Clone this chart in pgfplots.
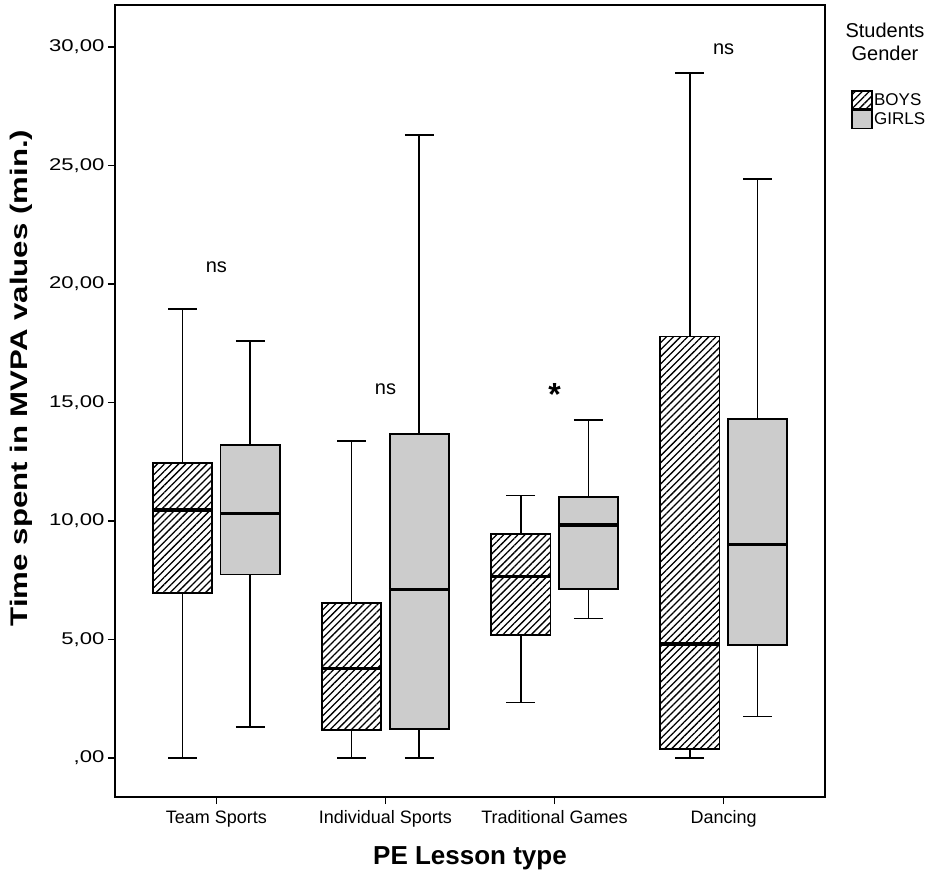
\documentclass[border=0pt]{standalone}
\usepackage{fontspec}
\setmainfont{Liberation Sans}
\newfontfamily\tickfont[FakeStretch=1.3]{Liberation Sans}
\newfontfamily\labfont[FakeStretch=1.3]{Liberation Sans}
\usepackage{pgfplots}
\pgfplotsset{compat=1.18}
\usepgfplotslibrary{statistics}
\usetikzlibrary{patterns.meta}
\definecolor{boxgray}{RGB}{204,204,204}
\tikzset{hatch/.style={pattern={Lines[angle=45,distance=5pt,line width=1.3pt]}, pattern color=black}}
\pgfplotsset{
  bx/.style n args={6}{black, line width=1.4pt, forget plot,
    boxplot prepared={draw direction=y, draw position=#1, lower whisker=#2, lower quartile=#3,
      median=#4, upper quartile=#5, upper whisker=#6,
      box extend=0.35, whisker extend=0.17,
      every whisker/.style={line width=1.6pt},
      every box/.style={line width=1.6pt},
      every median/.style={line width=3.2pt}}},
}
\begin{document}
\begin{tikzpicture}
\begin{axis}[
  scale only axis, width=710pt, height=792pt,
  xmin=-0.6, xmax=3.6, ymin=-1.65, ymax=31.77,
  xtick={0,1,2,3},
  xticklabels={Team Sports, Individual Sports, Traditional Games, Dancing},
  ytick={0,5,...,30},
  yticklabels={{,00},{5,00},{10,00},{15,00},{20,00},{25,00},{30,00}},
  tick align=outside, major tick length=7pt,
  tick style={line width=1.3pt, black},
  xtick pos=left, ytick pos=left,
  axis line style={line width=1.6pt},
  yticklabel style={font=\fontsize{17}{17}\tickfont},
  xticklabel style={font=\fontsize{18}{18}\selectfont, yshift=-3pt},
  xlabel={PE Lesson type},
  ylabel={Time spent in MVPA values (min.)},
  xlabel style={font=\fontsize{26}{26}\selectfont\bfseries, at={(axis description cs:0.5,-0.077)}, anchor=center},
  ylabel style={font=\fontsize{24}{24}\labfont\bfseries, at={(axis description cs:-0.1324,0.529)}, anchor=center},
  legend style={at={(axis description cs:1,1)}, anchor=north west, xshift=26pt, yshift=-85pt,
    draw=none, fill=none, font=\fontsize{17}{17}\selectfont, inner sep=0pt, row sep=0pt,
    nodes={inner sep=1.5pt}},
  legend cell align=left,
  legend image code/.code={\draw[#1] (0pt,-9pt) rectangle (20pt,9pt);},
  clip=false,
]
% Team Sports
\addplot[bx={-0.2}{0}{6.96}{10.46}{12.45}{18.93}, hatch] coordinates {};
\addplot[bx={0.2}{1.31}{7.74}{10.30}{13.20}{17.60}, fill=boxgray] coordinates {};
% Individual Sports
\addplot[bx={0.8}{0}{1.18}{3.78}{6.53}{13.38}, hatch] coordinates {};
\addplot[bx={1.2}{0}{1.22}{7.09}{13.67}{26.29}, fill=boxgray] coordinates {};
% Traditional Games
\addplot[bx={1.8}{2.33}{5.19}{7.65}{9.44}{11.07}, hatch] coordinates {};
\addplot[bx={2.2}{5.89}{7.13}{9.83}{11.00}{14.26}, fill=boxgray] coordinates {};
% Dancing
\addplot[bx={2.8}{0}{0.37}{4.81}{17.78}{28.89}, hatch] coordinates {};
\addplot[bx={3.2}{1.74}{4.77}{8.99}{14.29}{24.42}, fill=boxgray] coordinates {};

\addlegendimage{black, line width=1.4pt, hatch}
\addlegendentry{BOYS}
\addlegendimage{black, line width=1.4pt, fill=boxgray}
\addlegendentry{GIRLS}

\node[font=\fontsize{20}{20}\selectfont] at (axis cs:0,20.7) {ns};
\node[font=\fontsize{20}{20}\selectfont] at (axis cs:1,15.57) {ns};
\node[font=\fontsize{32}{32}\selectfont\bfseries] at (axis cs:2,15.35) {*};
\node[font=\fontsize{20}{20}\selectfont] at (axis cs:3,29.9) {ns};
\node[font=\fontsize{20}{23}\selectfont, align=center] at ([xshift=60pt,yshift=-37pt]rel axis cs:1,1) {Students\\Gender};
\end{axis}
\path ([xshift=-115pt,yshift=-86pt]current axis.south west) ([xshift=117pt,yshift=5pt]current axis.north east);
\end{tikzpicture}
\end{document}
